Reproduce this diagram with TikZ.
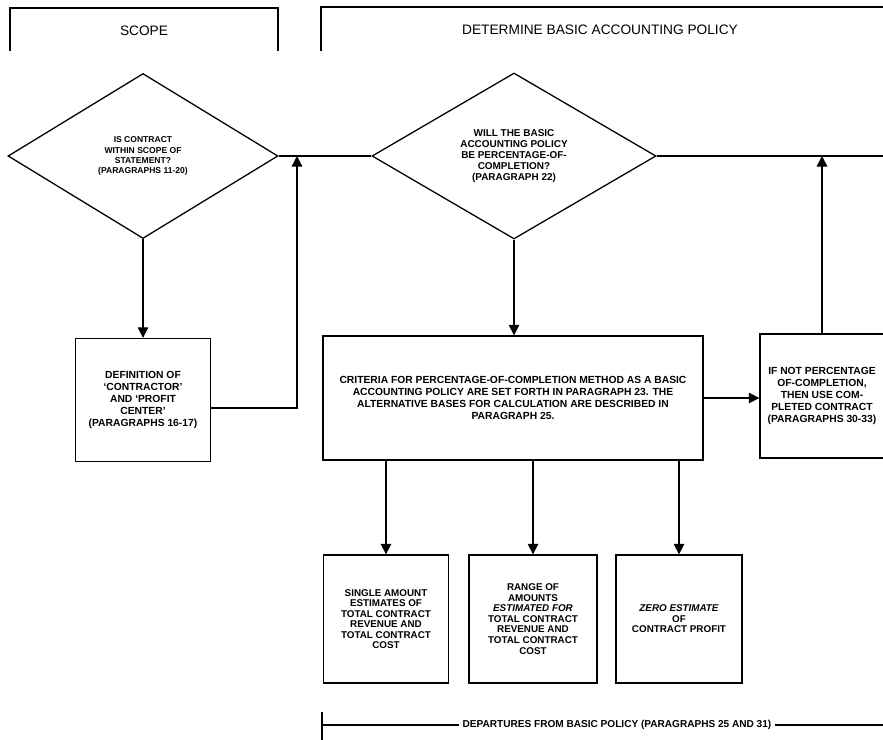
\documentclass[tikz,border=0pt]{standalone}
\usepackage{fontspec}
\setmainfont{Liberation Sans}
\usetikzlibrary{shapes.geometric,arrows.meta}
\begin{document}
\begin{tikzpicture}[x=0.03cm,y=-0.03cm,line width=1.1pt,line join=miter,>={Triangle[length=9pt,width=9pt]},
	head/.style={font=\fontsize{11.7}{14}\selectfont},
	box/.style={draw,align=center,inner sep=0pt,font=\fontsize{8.8}{10.2}\selectfont\bfseries},
	smallbox/.style={box,minimum height=3.84cm,font=\fontsize{8.4}{9}\selectfont\bfseries},
	decision/.style={draw,diamond,align=center,inner sep=0pt,font=\fontsize{8.5}{9.3}\selectfont\bfseries}]
					\useasboundingbox (0,0) rectangle (883,740);
					\clip (0,0) rectangle (883,740);
					\draw (10,51) -- (10,8) -- (278,8) -- (278,51);
					\draw (321,51) -- (321,7) -- (890,7);
					\node[head] (hScope) at (144,31) {SCOPE};
					\node[head] (hPolicy) at (600,30) {DETERMINE BASIC ACCOUNTING POLICY};
					\node[decision,minimum width=8.1cm,minimum height=4.95cm,font=\fontsize{7.3}{8.6}\selectfont\bfseries] (d1) at (143,156)
						{IS CONTRACT\\WITHIN SCOPE OF\\STATEMENT?\\(PARAGRAPHS 11-20)};
					\node[decision,minimum width=8.52cm,minimum height=4.98cm] (d2) at (514,156)
						{WILL THE BASIC\\ACCOUNTING POLICY\\BE PERCENTAGE-OF-\\COMPLETION?\\(PARAGRAPH 22)};
					\node[box,minimum width=4.05cm,minimum height=3.69cm] (def) at (143,400)
						{DEFINITION OF\\`CONTRACTOR'\\AND `PROFIT\\CENTER'\\(PARAGRAPHS 16-17)};
					\node[box,minimum width=11.4cm,minimum height=3.72cm] (crit) at (513,398)
						{CRITERIA FOR PERCENTAGE-OF-COMPLETION METHOD AS A BASIC\\ACCOUNTING POLICY ARE SET FORTH IN PARAGRAPH 23. THE\\ALTERNATIVE BASES FOR CALCULATION ARE DESCRIBED IN\\PARAGRAPH 25.};
					\node[box,minimum width=3.72cm,minimum height=3.72cm] (done) at (822,396)
						{IF NOT PERCENTAGE\\OF-COMPLETION,\\THEN USE COM-\\PLETED CONTRACT\\(PARAGRAPHS 30-33)};
					\node[smallbox,minimum width=3.75cm] (b1) at (386,619)
						{SINGLE AMOUNT\\ESTIMATES OF\\TOTAL CONTRACT\\REVENUE AND\\TOTAL CONTRACT\\COST};
					\node[smallbox,minimum width=3.84cm] (b2) at (533,619)
						{RANGE OF\\AMOUNTS\\{\itshape ESTIMATED FOR}\\TOTAL CONTRACT\\REVENUE AND\\TOTAL CONTRACT\\COST};
					\node[smallbox,minimum width=3.78cm] (b3) at (679,619)
						{{\itshape ZERO ESTIMATE}\\OF\\CONTRACT PROFIT};
					\coordinate (j1) at (297,156);
					\coordinate (rEnd) at (890,156);
					\draw (d1.east) -- (d2.west);
					\draw (d2.east) -- (rEnd);
					\draw[->] (d1.south) -- (d1.south |- def.north);
					\draw[->] ([yshift=-0.24cm]def.east) -| (j1);
					\draw[->] (d2.south) -- (d2.south |- crit.north);
					\draw[->] (crit.east) -- (crit.east -| done.west);
					\draw[->] (done.north) -- (done.north |- d2.east);
					\foreach \b in {b1,b2,b3} \draw[->] (crit.south -| \b.north) -- (\b.north);
					\node[font=\fontsize{8.6}{10}\selectfont\bfseries,inner xsep=3pt] (dep) at (617,725) {DEPARTURES FROM BASIC POLICY (PARAGRAPHS 25 AND 31)};
					\coordinate (dL) at (322,725);
					\coordinate (dR) at (890,725);
					\draw (322,712) -- (322,740);
					\draw (dL) -- (dep.west) (dep.east) -- (dR);
				\end{tikzpicture}
\end{document}
